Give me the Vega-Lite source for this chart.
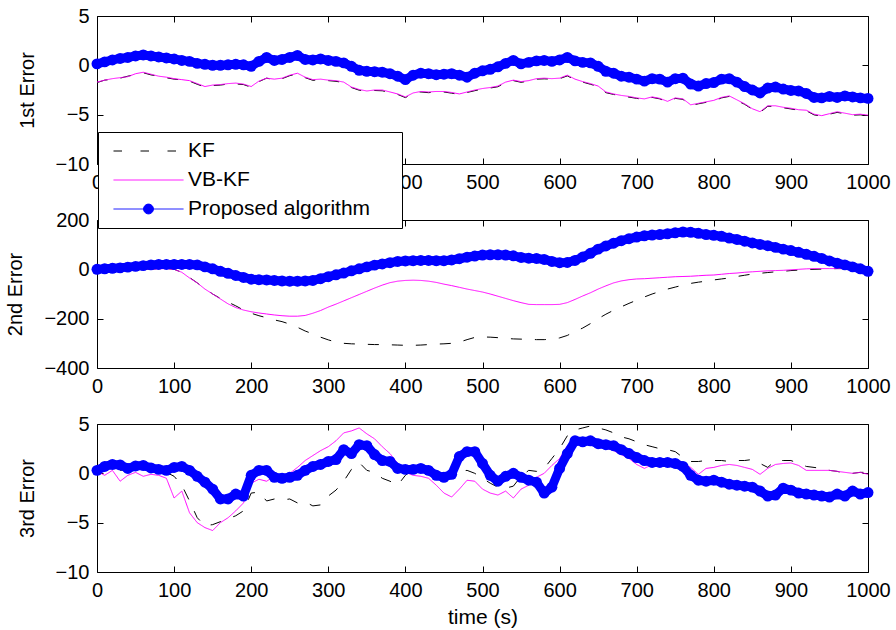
{
  "$schema": "https://vega.github.io/schema/vega-lite/v6.json",
  "background": "white",
  "padding": {"left": 5, "top": 5, "right": 5, "bottom": 5},
  "spacing": 56,
  "bounds": "flush",
  "resolve": {"scale": {"color": "independent", "strokeDash": "independent"}},
  "config": {
    "font": "Liberation Sans",
    "view": {"stroke": "black", "strokeWidth": 1},
    "axis": {"grid": false, "domain": false, "tickColor": "black", "tickSize": -6, "tickWidth": 1, "labelColor": "black", "labelFontSize": 20, "labelFont": "Liberation Sans", "titleFont": "Liberation Sans", "titleFontSize": 20, "titleFontWeight": "normal", "titleColor": "black", "labelFlush": false, "labelOverlap": false, "labelBound": false, "format": "d"},
    "axisX": {"labelPadding": 14, "titlePadding": 6},
    "axisY": {"labelPadding": 14, "titlePadding": 18}
  },
  "datasets": {
    "p1": [
      {"t":0,"KF":-1.75,"VB-KF":-1.7,"Proposed algorithm":0.15},
      {"t":10,"KF":-1.5,"VB-KF":-1.5,"Proposed algorithm":0.35},
      {"t":20,"KF":-1.42,"VB-KF":-1.35,"Proposed algorithm":0.55},
      {"t":30,"KF":-1.3,"VB-KF":-1.25,"Proposed algorithm":0.7},
      {"t":40,"KF":-1.1,"VB-KF":-1.15,"Proposed algorithm":0.8},
      {"t":50,"KF":-0.92,"VB-KF":-0.85,"Proposed algorithm":0.95},
      {"t":60,"KF":-0.75,"VB-KF":-0.7,"Proposed algorithm":1.05},
      {"t":70,"KF":-0.97,"VB-KF":-0.9,"Proposed algorithm":0.95},
      {"t":80,"KF":-1.1,"VB-KF":-1.1,"Proposed algorithm":0.85},
      {"t":90,"KF":-1.26,"VB-KF":-1.2,"Proposed algorithm":0.75},
      {"t":100,"KF":-1.4,"VB-KF":-1.35,"Proposed algorithm":0.65},
      {"t":110,"KF":-1.48,"VB-KF":-1.45,"Proposed algorithm":0.5},
      {"t":120,"KF":-1.6,"VB-KF":-1.55,"Proposed algorithm":0.4},
      {"t":130,"KF":-1.92,"VB-KF":-1.85,"Proposed algorithm":0.2},
      {"t":140,"KF":-2.2,"VB-KF":-2.15,"Proposed algorithm":0.1},
      {"t":150,"KF":-2.05,"VB-KF":-2.0,"Proposed algorithm":0.0},
      {"t":160,"KF":-2.0,"VB-KF":-1.95,"Proposed algorithm":0.0},
      {"t":170,"KF":-1.9,"VB-KF":-1.85,"Proposed algorithm":0.05},
      {"t":180,"KF":-1.88,"VB-KF":-1.8,"Proposed algorithm":0.1},
      {"t":190,"KF":-1.95,"VB-KF":-1.9,"Proposed algorithm":0.05},
      {"t":200,"KF":-2.22,"VB-KF":-2.15,"Proposed algorithm":-0.1},
      {"t":210,"KF":-1.65,"VB-KF":-1.6,"Proposed algorithm":0.4},
      {"t":220,"KF":-1.3,"VB-KF":-1.3,"Proposed algorithm":0.8},
      {"t":230,"KF":-1.47,"VB-KF":-1.4,"Proposed algorithm":0.5},
      {"t":240,"KF":-1.35,"VB-KF":-1.3,"Proposed algorithm":0.6},
      {"t":250,"KF":-1.05,"VB-KF":-1.0,"Proposed algorithm":0.8},
      {"t":260,"KF":-0.86,"VB-KF":-0.8,"Proposed algorithm":1.0},
      {"t":270,"KF":-1.25,"VB-KF":-1.2,"Proposed algorithm":0.6},
      {"t":280,"KF":-1.52,"VB-KF":-1.45,"Proposed algorithm":0.55},
      {"t":290,"KF":-1.45,"VB-KF":-1.4,"Proposed algorithm":0.65},
      {"t":300,"KF":-1.55,"VB-KF":-1.5,"Proposed algorithm":0.5},
      {"t":310,"KF":-1.62,"VB-KF":-1.55,"Proposed algorithm":0.4},
      {"t":320,"KF":-1.75,"VB-KF":-1.7,"Proposed algorithm":0.25},
      {"t":330,"KF":-2.25,"VB-KF":-2.2,"Proposed algorithm":-0.1},
      {"t":340,"KF":-2.52,"VB-KF":-2.45,"Proposed algorithm":-0.5},
      {"t":350,"KF":-2.65,"VB-KF":-2.6,"Proposed algorithm":-0.6},
      {"t":360,"KF":-2.55,"VB-KF":-2.5,"Proposed algorithm":-0.65},
      {"t":370,"KF":-2.58,"VB-KF":-2.5,"Proposed algorithm":-0.7},
      {"t":380,"KF":-2.75,"VB-KF":-2.7,"Proposed algorithm":-0.85},
      {"t":390,"KF":-2.95,"VB-KF":-2.9,"Proposed algorithm":-1.1},
      {"t":400,"KF":-3.27,"VB-KF":-3.2,"Proposed algorithm":-1.45},
      {"t":410,"KF":-2.85,"VB-KF":-2.8,"Proposed algorithm":-1.0},
      {"t":420,"KF":-2.7,"VB-KF":-2.65,"Proposed algorithm":-0.8},
      {"t":430,"KF":-2.77,"VB-KF":-2.7,"Proposed algorithm":-0.85},
      {"t":440,"KF":-2.7,"VB-KF":-2.65,"Proposed algorithm":-0.95},
      {"t":450,"KF":-2.7,"VB-KF":-2.65,"Proposed algorithm":-0.9},
      {"t":460,"KF":-2.82,"VB-KF":-2.75,"Proposed algorithm":-0.85},
      {"t":470,"KF":-2.95,"VB-KF":-2.9,"Proposed algorithm":-1.0},
      {"t":480,"KF":-2.75,"VB-KF":-2.7,"Proposed algorithm":-1.2},
      {"t":490,"KF":-2.57,"VB-KF":-2.5,"Proposed algorithm":-0.8},
      {"t":500,"KF":-2.4,"VB-KF":-2.35,"Proposed algorithm":-0.55},
      {"t":510,"KF":-2.3,"VB-KF":-2.25,"Proposed algorithm":-0.4},
      {"t":520,"KF":-2.17,"VB-KF":-2.1,"Proposed algorithm":-0.15},
      {"t":530,"KF":-1.75,"VB-KF":-1.7,"Proposed algorithm":0.2},
      {"t":540,"KF":-1.55,"VB-KF":-1.5,"Proposed algorithm":0.5},
      {"t":550,"KF":-1.72,"VB-KF":-1.65,"Proposed algorithm":0.15},
      {"t":560,"KF":-1.6,"VB-KF":-1.55,"Proposed algorithm":0.3},
      {"t":570,"KF":-1.4,"VB-KF":-1.35,"Proposed algorithm":0.45},
      {"t":580,"KF":-1.37,"VB-KF":-1.3,"Proposed algorithm":0.5},
      {"t":590,"KF":-1.4,"VB-KF":-1.35,"Proposed algorithm":0.4},
      {"t":600,"KF":-1.35,"VB-KF":-1.3,"Proposed algorithm":0.55},
      {"t":610,"KF":-1.07,"VB-KF":-1.0,"Proposed algorithm":0.8},
      {"t":620,"KF":-1.45,"VB-KF":-1.4,"Proposed algorithm":0.45},
      {"t":630,"KF":-1.7,"VB-KF":-1.65,"Proposed algorithm":0.3},
      {"t":640,"KF":-1.92,"VB-KF":-1.85,"Proposed algorithm":0.25},
      {"t":650,"KF":-2.15,"VB-KF":-2.1,"Proposed algorithm":-0.1},
      {"t":660,"KF":-2.77,"VB-KF":-2.7,"Proposed algorithm":-0.6},
      {"t":670,"KF":-2.95,"VB-KF":-2.9,"Proposed algorithm":-0.8},
      {"t":680,"KF":-3.1,"VB-KF":-3.05,"Proposed algorithm":-1.1},
      {"t":690,"KF":-3.22,"VB-KF":-3.15,"Proposed algorithm":-1.2},
      {"t":700,"KF":-3.35,"VB-KF":-3.3,"Proposed algorithm":-1.4},
      {"t":710,"KF":-3.47,"VB-KF":-3.4,"Proposed algorithm":-1.6},
      {"t":720,"KF":-3.25,"VB-KF":-3.2,"Proposed algorithm":-1.35},
      {"t":730,"KF":-3.4,"VB-KF":-3.35,"Proposed algorithm":-1.4},
      {"t":740,"KF":-3.72,"VB-KF":-3.65,"Proposed algorithm":-1.7},
      {"t":750,"KF":-3.35,"VB-KF":-3.3,"Proposed algorithm":-1.35},
      {"t":760,"KF":-3.45,"VB-KF":-3.4,"Proposed algorithm":-1.3},
      {"t":770,"KF":-4.07,"VB-KF":-4.0,"Proposed algorithm":-1.9},
      {"t":780,"KF":-3.9,"VB-KF":-3.85,"Proposed algorithm":-2.1},
      {"t":790,"KF":-3.75,"VB-KF":-3.7,"Proposed algorithm":-1.85},
      {"t":800,"KF":-3.62,"VB-KF":-3.55,"Proposed algorithm":-1.75},
      {"t":810,"KF":-3.3,"VB-KF":-3.25,"Proposed algorithm":-1.4},
      {"t":820,"KF":-3.15,"VB-KF":-3.1,"Proposed algorithm":-1.35},
      {"t":830,"KF":-3.57,"VB-KF":-3.5,"Proposed algorithm":-1.7},
      {"t":840,"KF":-3.95,"VB-KF":-3.9,"Proposed algorithm":-2.15},
      {"t":850,"KF":-4.45,"VB-KF":-4.4,"Proposed algorithm":-2.5},
      {"t":860,"KF":-4.77,"VB-KF":-4.7,"Proposed algorithm":-2.8},
      {"t":870,"KF":-4.15,"VB-KF":-4.1,"Proposed algorithm":-2.3},
      {"t":880,"KF":-4.17,"VB-KF":-4.1,"Proposed algorithm":-2.2},
      {"t":890,"KF":-4.3,"VB-KF":-4.25,"Proposed algorithm":-2.4},
      {"t":900,"KF":-4.42,"VB-KF":-4.35,"Proposed algorithm":-2.55},
      {"t":910,"KF":-4.55,"VB-KF":-4.5,"Proposed algorithm":-2.6},
      {"t":920,"KF":-4.6,"VB-KF":-4.55,"Proposed algorithm":-2.85},
      {"t":930,"KF":-5.02,"VB-KF":-4.95,"Proposed algorithm":-3.25},
      {"t":940,"KF":-5.15,"VB-KF":-5.1,"Proposed algorithm":-3.3},
      {"t":950,"KF":-4.95,"VB-KF":-4.9,"Proposed algorithm":-3.15},
      {"t":960,"KF":-4.77,"VB-KF":-4.7,"Proposed algorithm":-3.25},
      {"t":970,"KF":-4.9,"VB-KF":-4.85,"Proposed algorithm":-3.1},
      {"t":980,"KF":-5.05,"VB-KF":-5.0,"Proposed algorithm":-3.2},
      {"t":990,"KF":-5.02,"VB-KF":-4.95,"Proposed algorithm":-3.3},
      {"t":1000,"KF":-5.1,"VB-KF":-5.05,"Proposed algorithm":-3.35}
    ],
    "p2": [
      {"t":0,"KF":0,"VB-KF":0,"Proposed algorithm":0},
      {"t":10,"KF":0,"VB-KF":0,"Proposed algorithm":2},
      {"t":20,"KF":0,"VB-KF":0,"Proposed algorithm":4},
      {"t":30,"KF":0,"VB-KF":0,"Proposed algorithm":6},
      {"t":40,"KF":1,"VB-KF":1,"Proposed algorithm":9},
      {"t":50,"KF":1,"VB-KF":1,"Proposed algorithm":12},
      {"t":60,"KF":1,"VB-KF":1,"Proposed algorithm":15},
      {"t":70,"KF":1,"VB-KF":1,"Proposed algorithm":18},
      {"t":80,"KF":2,"VB-KF":2,"Proposed algorithm":20},
      {"t":90,"KF":3,"VB-KF":3,"Proposed algorithm":20},
      {"t":100,"KF":0,"VB-KF":0,"Proposed algorithm":20},
      {"t":110,"KF":-12,"VB-KF":-12,"Proposed algorithm":20},
      {"t":120,"KF":-33,"VB-KF":-35,"Proposed algorithm":20},
      {"t":130,"KF":-55,"VB-KF":-55,"Proposed algorithm":18},
      {"t":140,"KF":-78,"VB-KF":-80,"Proposed algorithm":10},
      {"t":150,"KF":-100,"VB-KF":-100,"Proposed algorithm":2},
      {"t":160,"KF":-118,"VB-KF":-120,"Proposed algorithm":-8},
      {"t":170,"KF":-133,"VB-KF":-140,"Proposed algorithm":-16},
      {"t":180,"KF":-148,"VB-KF":-155,"Proposed algorithm":-25},
      {"t":190,"KF":-165,"VB-KF":-165,"Proposed algorithm":-33},
      {"t":200,"KF":-178,"VB-KF":-172,"Proposed algorithm":-40},
      {"t":210,"KF":-188,"VB-KF":-177,"Proposed algorithm":-42},
      {"t":220,"KF":-196,"VB-KF":-181,"Proposed algorithm":-43},
      {"t":230,"KF":-205,"VB-KF":-185,"Proposed algorithm":-45},
      {"t":240,"KF":-212,"VB-KF":-188,"Proposed algorithm":-47},
      {"t":250,"KF":-222,"VB-KF":-190,"Proposed algorithm":-48},
      {"t":260,"KF":-235,"VB-KF":-190,"Proposed algorithm":-48},
      {"t":270,"KF":-250,"VB-KF":-187,"Proposed algorithm":-47},
      {"t":280,"KF":-262,"VB-KF":-178,"Proposed algorithm":-45},
      {"t":290,"KF":-275,"VB-KF":-167,"Proposed algorithm":-38},
      {"t":300,"KF":-286,"VB-KF":-153,"Proposed algorithm":-30},
      {"t":310,"KF":-295,"VB-KF":-141,"Proposed algorithm":-22},
      {"t":320,"KF":-300,"VB-KF":-128,"Proposed algorithm":-15},
      {"t":330,"KF":-302,"VB-KF":-115,"Proposed algorithm":-6},
      {"t":340,"KF":-303,"VB-KF":-102,"Proposed algorithm":2},
      {"t":350,"KF":-304,"VB-KF":-89,"Proposed algorithm":10},
      {"t":360,"KF":-305,"VB-KF":-76,"Proposed algorithm":17},
      {"t":370,"KF":-305,"VB-KF":-64,"Proposed algorithm":22},
      {"t":380,"KF":-306,"VB-KF":-54,"Proposed algorithm":27},
      {"t":390,"KF":-307,"VB-KF":-48,"Proposed algorithm":32},
      {"t":400,"KF":-308,"VB-KF":-45,"Proposed algorithm":34},
      {"t":410,"KF":-308,"VB-KF":-44,"Proposed algorithm":35},
      {"t":420,"KF":-307,"VB-KF":-45,"Proposed algorithm":36},
      {"t":430,"KF":-305,"VB-KF":-48,"Proposed algorithm":36},
      {"t":440,"KF":-303,"VB-KF":-53,"Proposed algorithm":35},
      {"t":450,"KF":-302,"VB-KF":-60,"Proposed algorithm":35},
      {"t":460,"KF":-300,"VB-KF":-66,"Proposed algorithm":38},
      {"t":470,"KF":-295,"VB-KF":-73,"Proposed algorithm":43},
      {"t":480,"KF":-285,"VB-KF":-80,"Proposed algorithm":49},
      {"t":490,"KF":-276,"VB-KF":-86,"Proposed algorithm":54},
      {"t":500,"KF":-274,"VB-KF":-92,"Proposed algorithm":58},
      {"t":510,"KF":-275,"VB-KF":-100,"Proposed algorithm":59},
      {"t":520,"KF":-277,"VB-KF":-109,"Proposed algorithm":59},
      {"t":530,"KF":-280,"VB-KF":-118,"Proposed algorithm":58},
      {"t":540,"KF":-282,"VB-KF":-127,"Proposed algorithm":55},
      {"t":550,"KF":-283,"VB-KF":-135,"Proposed algorithm":48},
      {"t":560,"KF":-284,"VB-KF":-142,"Proposed algorithm":45},
      {"t":570,"KF":-285,"VB-KF":-143,"Proposed algorithm":44},
      {"t":580,"KF":-285,"VB-KF":-143,"Proposed algorithm":40},
      {"t":590,"KF":-283,"VB-KF":-143,"Proposed algorithm":32},
      {"t":600,"KF":-278,"VB-KF":-142,"Proposed algorithm":27},
      {"t":610,"KF":-268,"VB-KF":-135,"Proposed algorithm":28},
      {"t":620,"KF":-252,"VB-KF":-122,"Proposed algorithm":36},
      {"t":630,"KF":-238,"VB-KF":-108,"Proposed algorithm":50},
      {"t":640,"KF":-220,"VB-KF":-95,"Proposed algorithm":65},
      {"t":650,"KF":-200,"VB-KF":-80,"Proposed algorithm":82},
      {"t":660,"KF":-182,"VB-KF":-67,"Proposed algorithm":95},
      {"t":670,"KF":-166,"VB-KF":-55,"Proposed algorithm":106},
      {"t":680,"KF":-152,"VB-KF":-47,"Proposed algorithm":116},
      {"t":690,"KF":-138,"VB-KF":-42,"Proposed algorithm":124},
      {"t":700,"KF":-125,"VB-KF":-39,"Proposed algorithm":131},
      {"t":710,"KF":-112,"VB-KF":-38,"Proposed algorithm":136},
      {"t":720,"KF":-100,"VB-KF":-36,"Proposed algorithm":139},
      {"t":730,"KF":-90,"VB-KF":-34,"Proposed algorithm":141},
      {"t":740,"KF":-80,"VB-KF":-32,"Proposed algorithm":144},
      {"t":750,"KF":-72,"VB-KF":-30,"Proposed algorithm":148},
      {"t":760,"KF":-64,"VB-KF":-29,"Proposed algorithm":151},
      {"t":770,"KF":-57,"VB-KF":-28,"Proposed algorithm":150},
      {"t":780,"KF":-52,"VB-KF":-26,"Proposed algorithm":146},
      {"t":790,"KF":-48,"VB-KF":-24,"Proposed algorithm":141},
      {"t":800,"KF":-43,"VB-KF":-23,"Proposed algorithm":138},
      {"t":810,"KF":-39,"VB-KF":-20,"Proposed algorithm":134},
      {"t":820,"KF":-35,"VB-KF":-17,"Proposed algorithm":127},
      {"t":830,"KF":-29,"VB-KF":-15,"Proposed algorithm":121},
      {"t":840,"KF":-24,"VB-KF":-12,"Proposed algorithm":114},
      {"t":850,"KF":-19,"VB-KF":-10,"Proposed algorithm":107},
      {"t":860,"KF":-16,"VB-KF":-8,"Proposed algorithm":101},
      {"t":870,"KF":-13,"VB-KF":-6,"Proposed algorithm":96},
      {"t":880,"KF":-10,"VB-KF":-5,"Proposed algorithm":89},
      {"t":890,"KF":-8,"VB-KF":-4,"Proposed algorithm":82},
      {"t":900,"KF":-5,"VB-KF":-2,"Proposed algorithm":76},
      {"t":910,"KF":-3,"VB-KF":0,"Proposed algorithm":69},
      {"t":920,"KF":-1,"VB-KF":2,"Proposed algorithm":61},
      {"t":930,"KF":0,"VB-KF":3,"Proposed algorithm":53},
      {"t":940,"KF":1,"VB-KF":3,"Proposed algorithm":44},
      {"t":950,"KF":2,"VB-KF":3,"Proposed algorithm":34},
      {"t":960,"KF":3,"VB-KF":3,"Proposed algorithm":25},
      {"t":970,"KF":3,"VB-KF":3,"Proposed algorithm":18},
      {"t":980,"KF":2,"VB-KF":3,"Proposed algorithm":10},
      {"t":990,"KF":1,"VB-KF":2,"Proposed algorithm":2},
      {"t":1000,"KF":0,"VB-KF":0,"Proposed algorithm":-8}
    ],
    "p3": [
      {"t":0,"KF":0.3,"VB-KF":0.2,"Proposed algorithm":0.3},
      {"t":10,"KF":0.6,"VB-KF":-0.2,"Proposed algorithm":0.7},
      {"t":20,"KF":0.5,"VB-KF":0.3,"Proposed algorithm":0.9},
      {"t":30,"KF":0.3,"VB-KF":-0.8,"Proposed algorithm":0.85},
      {"t":40,"KF":0.4,"VB-KF":-0.2,"Proposed algorithm":0.5},
      {"t":50,"KF":0.5,"VB-KF":0.1,"Proposed algorithm":0.75},
      {"t":60,"KF":0.4,"VB-KF":-0.3,"Proposed algorithm":0.8},
      {"t":70,"KF":0.2,"VB-KF":-0.1,"Proposed algorithm":0.55},
      {"t":80,"KF":0.2,"VB-KF":-0.2,"Proposed algorithm":0.4},
      {"t":90,"KF":0.1,"VB-KF":-0.5,"Proposed algorithm":0.3},
      {"t":100,"KF":-0.3,"VB-KF":-2.5,"Proposed algorithm":0.6},
      {"t":110,"KF":-1.2,"VB-KF":-1.8,"Proposed algorithm":0.7},
      {"t":120,"KF":-2.8,"VB-KF":-4.0,"Proposed algorithm":0.3},
      {"t":130,"KF":-4.5,"VB-KF":-5.0,"Proposed algorithm":-0.3},
      {"t":140,"KF":-5.3,"VB-KF":-5.5,"Proposed algorithm":-0.9},
      {"t":150,"KF":-5.2,"VB-KF":-5.8,"Proposed algorithm":-1.6},
      {"t":160,"KF":-4.9,"VB-KF":-5.0,"Proposed algorithm":-2.6},
      {"t":170,"KF":-4.6,"VB-KF":-4.5,"Proposed algorithm":-2.6},
      {"t":180,"KF":-4.3,"VB-KF":-3.8,"Proposed algorithm":-2.1},
      {"t":190,"KF":-3.8,"VB-KF":-3.0,"Proposed algorithm":-2.3},
      {"t":200,"KF":-2.0,"VB-KF":-1.0,"Proposed algorithm":-0.2},
      {"t":210,"KF":-1.9,"VB-KF":-0.6,"Proposed algorithm":0.3},
      {"t":220,"KF":-2.8,"VB-KF":-0.8,"Proposed algorithm":0.3},
      {"t":230,"KF":-2.6,"VB-KF":-0.3,"Proposed algorithm":-0.4},
      {"t":240,"KF":-2.7,"VB-KF":-0.2,"Proposed algorithm":-0.5},
      {"t":250,"KF":-2.6,"VB-KF":0.0,"Proposed algorithm":-0.4},
      {"t":260,"KF":-3.0,"VB-KF":0.6,"Proposed algorithm":-0.2},
      {"t":270,"KF":-2.9,"VB-KF":1.3,"Proposed algorithm":0.3},
      {"t":280,"KF":-3.3,"VB-KF":1.8,"Proposed algorithm":0.7},
      {"t":290,"KF":-3.2,"VB-KF":2.3,"Proposed algorithm":0.9},
      {"t":300,"KF":-2.3,"VB-KF":2.7,"Proposed algorithm":1.2},
      {"t":310,"KF":-1.7,"VB-KF":3.3,"Proposed algorithm":1.4},
      {"t":320,"KF":-0.8,"VB-KF":4.1,"Proposed algorithm":2.4},
      {"t":330,"KF":0.4,"VB-KF":4.3,"Proposed algorithm":2.0},
      {"t":340,"KF":1.1,"VB-KF":4.6,"Proposed algorithm":2.9},
      {"t":350,"KF":0.3,"VB-KF":4.0,"Proposed algorithm":2.8},
      {"t":360,"KF":0.1,"VB-KF":3.5,"Proposed algorithm":1.9},
      {"t":370,"KF":-0.5,"VB-KF":2.7,"Proposed algorithm":1.3},
      {"t":380,"KF":-0.8,"VB-KF":2.0,"Proposed algorithm":1.2},
      {"t":390,"KF":-1.2,"VB-KF":1.0,"Proposed algorithm":0.5},
      {"t":400,"KF":-0.2,"VB-KF":0.1,"Proposed algorithm":0.4},
      {"t":410,"KF":0.4,"VB-KF":-0.2,"Proposed algorithm":0.4},
      {"t":420,"KF":0.8,"VB-KF":-0.3,"Proposed algorithm":0.5},
      {"t":430,"KF":0.6,"VB-KF":-0.5,"Proposed algorithm":0.3},
      {"t":440,"KF":0.3,"VB-KF":-1.2,"Proposed algorithm":-0.2},
      {"t":450,"KF":0.0,"VB-KF":-2.0,"Proposed algorithm":-0.4},
      {"t":460,"KF":0.0,"VB-KF":-2.4,"Proposed algorithm":-0.1},
      {"t":470,"KF":0.2,"VB-KF":-1.6,"Proposed algorithm":1.7},
      {"t":480,"KF":0.3,"VB-KF":-0.7,"Proposed algorithm":2.2},
      {"t":490,"KF":0.0,"VB-KF":-0.8,"Proposed algorithm":2.2},
      {"t":500,"KF":-0.5,"VB-KF":-1.6,"Proposed algorithm":1.0},
      {"t":510,"KF":-1.0,"VB-KF":-2.0,"Proposed algorithm":-0.2},
      {"t":520,"KF":-1.4,"VB-KF":-2.2,"Proposed algorithm":-0.8},
      {"t":530,"KF":-1.5,"VB-KF":-1.8,"Proposed algorithm":-0.3},
      {"t":540,"KF":-1.3,"VB-KF":-2.5,"Proposed algorithm":0.0},
      {"t":550,"KF":-0.3,"VB-KF":-1.6,"Proposed algorithm":-0.4},
      {"t":560,"KF":0.3,"VB-KF":-1.2,"Proposed algorithm":-0.7},
      {"t":570,"KF":0.2,"VB-KF":-0.4,"Proposed algorithm":-0.9},
      {"t":580,"KF":0.5,"VB-KF":0.0,"Proposed algorithm":-2.0},
      {"t":590,"KF":1.5,"VB-KF":0.8,"Proposed algorithm":-1.4},
      {"t":600,"KF":2.5,"VB-KF":1.5,"Proposed algorithm":0.5},
      {"t":610,"KF":3.8,"VB-KF":2.8,"Proposed algorithm":2.0},
      {"t":620,"KF":4.4,"VB-KF":3.3,"Proposed algorithm":3.3},
      {"t":630,"KF":4.6,"VB-KF":3.5,"Proposed algorithm":3.2},
      {"t":640,"KF":4.8,"VB-KF":3.2,"Proposed algorithm":3.3},
      {"t":650,"KF":4.6,"VB-KF":2.9,"Proposed algorithm":3.0},
      {"t":660,"KF":4.4,"VB-KF":2.6,"Proposed algorithm":2.9},
      {"t":670,"KF":4.1,"VB-KF":2.3,"Proposed algorithm":2.8},
      {"t":680,"KF":3.7,"VB-KF":1.9,"Proposed algorithm":2.4},
      {"t":690,"KF":3.5,"VB-KF":1.5,"Proposed algorithm":2.0},
      {"t":700,"KF":3.2,"VB-KF":0.9,"Proposed algorithm":1.6},
      {"t":710,"KF":2.9,"VB-KF":0.5,"Proposed algorithm":1.3},
      {"t":720,"KF":2.7,"VB-KF":0.9,"Proposed algorithm":1.1},
      {"t":730,"KF":2.5,"VB-KF":0.8,"Proposed algorithm":1.1},
      {"t":740,"KF":2.4,"VB-KF":0.9,"Proposed algorithm":1.1},
      {"t":750,"KF":2.2,"VB-KF":1.0,"Proposed algorithm":1.0},
      {"t":760,"KF":1.6,"VB-KF":1.0,"Proposed algorithm":0.7},
      {"t":770,"KF":1.2,"VB-KF":0.6,"Proposed algorithm":-0.2},
      {"t":780,"KF":1.2,"VB-KF":-0.1,"Proposed algorithm":-0.7},
      {"t":790,"KF":1.3,"VB-KF":0.5,"Proposed algorithm":-0.8},
      {"t":800,"KF":1.3,"VB-KF":0.6,"Proposed algorithm":-0.7},
      {"t":810,"KF":1.3,"VB-KF":0.8,"Proposed algorithm":-0.9},
      {"t":820,"KF":1.2,"VB-KF":0.9,"Proposed algorithm":-1.1},
      {"t":830,"KF":1.3,"VB-KF":0.8,"Proposed algorithm":-1.2},
      {"t":840,"KF":1.3,"VB-KF":0.6,"Proposed algorithm":-1.3},
      {"t":850,"KF":1.4,"VB-KF":0.4,"Proposed algorithm":-1.4},
      {"t":860,"KF":1.0,"VB-KF":-0.1,"Proposed algorithm":-1.8},
      {"t":870,"KF":0.6,"VB-KF":0.5,"Proposed algorithm":-2.3},
      {"t":880,"KF":1.3,"VB-KF":0.9,"Proposed algorithm":-2.2},
      {"t":890,"KF":1.3,"VB-KF":1.0,"Proposed algorithm":-1.5},
      {"t":900,"KF":1.3,"VB-KF":1.05,"Proposed algorithm":-1.7},
      {"t":910,"KF":1.0,"VB-KF":0.8,"Proposed algorithm":-2.0},
      {"t":920,"KF":0.7,"VB-KF":0.3,"Proposed algorithm":-2.1},
      {"t":930,"KF":0.6,"VB-KF":0.3,"Proposed algorithm":-2.2},
      {"t":940,"KF":0.5,"VB-KF":0.3,"Proposed algorithm":-2.3},
      {"t":950,"KF":0.3,"VB-KF":0.3,"Proposed algorithm":-2.4},
      {"t":960,"KF":0.2,"VB-KF":0.2,"Proposed algorithm":-2.1},
      {"t":970,"KF":0.0,"VB-KF":0.1,"Proposed algorithm":-2.3},
      {"t":980,"KF":0.0,"VB-KF":0.0,"Proposed algorithm":-1.8},
      {"t":990,"KF":0.1,"VB-KF":0.1,"Proposed algorithm":-2.1},
      {"t":1000,"KF":0.1,"VB-KF":-0.1,"Proposed algorithm":-1.95}
    ]
  },
  "vconcat": [
    {
      "width": 771, "height": 148,
      "data": {"name": "p1"},
      "transform": [{"fold": ["KF", "VB-KF", "Proposed algorithm"], "as": ["series", "v"]}],
      "layer": [
        {
          "encoding": {
            "x": {"field": "t", "type": "quantitative", "scale": {"domain": [0, 1000], "nice": false}, "axis": {"values": [0,100,200,300,400,500,600,700,800,900,1000], "title": null}},
            "y": {"field": "v", "type": "quantitative", "scale": {"domain": [-10, 5], "nice": false}, "axis": {"values": [-10,-5,0,5], "title": "1st Error"}},
            "color": {"field": "series", "type": "nominal", "scale": {"domain": ["KF", "VB-KF", "Proposed algorithm"], "range": ["#000000", "#ff00ff", "#0000ff"]}, "legend": null}
          },
          "layer": [
            {"transform": [{"filter": "datum.series !== 'Proposed algorithm'"}], "mark": {"type": "line", "strokeWidth": 1}, "encoding": {"strokeDash": {"field": "series", "type": "nominal", "scale": {"domain": ["KF", "VB-KF"], "range": [[11, 13], [1, 0]]}, "legend": null}}},
            {"transform": [{"filter": "datum.series === 'Proposed algorithm'"}], "mark": {"type": "line", "strokeWidth": 9, "strokeCap": "round", "strokeJoin": "round"}},
            {"transform": [{"filter": "datum.series === 'Proposed algorithm'"}], "mark": {"type": "point", "shape": "circle", "filled": true, "size": 120, "opacity": 1}}
          ]
        },
        {"mark": {"type": "line", "opacity": 0}, "encoding": {
          "x": {"field": "t", "type": "quantitative", "axis": {"orient": "top", "labels": false, "values": [0,100,200,300,400,500,600,700,800,900,1000], "title": null}},
          "y": {"field": "v", "type": "quantitative", "axis": {"orient": "right", "labels": false, "values": [-10,-5,0,5], "title": null}}}}
      ],
      "resolve": {"axis": {"x": "independent", "y": "independent"}}
    },
    {
      "width": 771, "height": 148,
      "data": {"name": "p2"},
      "transform": [{"fold": ["KF", "VB-KF", "Proposed algorithm"], "as": ["series", "v"]}],
      "layer": [
        {
          "encoding": {
            "x": {"field": "t", "type": "quantitative", "scale": {"domain": [0, 1000], "nice": false}, "axis": {"values": [0,100,200,300,400,500,600,700,800,900,1000], "title": null}},
            "y": {"field": "v", "type": "quantitative", "scale": {"domain": [-400, 200], "nice": false}, "axis": {"values": [-400,-200,0,200], "title": "2nd Error"}},
            "color": {"field": "series", "type": "nominal", "scale": {"domain": ["KF", "VB-KF", "Proposed algorithm"], "range": ["#000000", "#ff00ff", "#0000ff"]},
              "legend": {
                "orient": "none", "legendX": 1, "legendY": -88, "title": "\u00a0", "titleOrient": "right", "titlePadding": 25, "titleFontSize": 20,
                "direction": "vertical",
                "fillColor": "white", "strokeColor": "black", "padding": 6.5,
                "symbolSize": 4900, "symbolStrokeWidth": 1, "symbolOffset": 8.5, "symbolType": "stroke",
                "labelOffset": 4, "labelFontSize": 21, "labelColor": "black", "labelFont": "Liberation Sans", "labelLimit": 0,
                "clipHeight": 25, "rowPadding": 4,
                "encode": {"symbols": {"update": {
                  "shape": {"signal": "datum.value === 'Proposed algorithm' ? 'M-1,0L1,0M0.14,0A0.14,0.14,0,1,1,-0.14,0A0.14,0.14,0,1,1,0.14,0Z' : 'M-1,0L1,0'"},
                  "strokeDash": {"signal": "datum.value === 'KF' ? [8.5, 18.5] : [1, 0]"},
                  "fill": {"signal": "datum.value === 'Proposed algorithm' ? '#0000ff' : 'transparent'"},
                  "fillOpacity": {"value": 1},
                  "opacity": {"value": 1}
                }}}
              }}
          },
          "layer": [
            {"transform": [{"filter": "datum.series !== 'Proposed algorithm'"}], "mark": {"type": "line", "strokeWidth": 1}, "encoding": {"strokeDash": {"field": "series", "type": "nominal", "scale": {"domain": ["KF", "VB-KF"], "range": [[11, 13], [1, 0]]}, "legend": null}}},
            {"transform": [{"filter": "datum.series === 'Proposed algorithm'"}], "mark": {"type": "line", "strokeWidth": 9, "strokeCap": "round", "strokeJoin": "round"}},
            {"transform": [{"filter": "datum.series === 'Proposed algorithm'"}], "mark": {"type": "point", "shape": "circle", "filled": true, "size": 120, "opacity": 1}}
          ]
        },
        {"mark": {"type": "line", "opacity": 0}, "encoding": {
          "x": {"field": "t", "type": "quantitative", "axis": {"orient": "top", "labels": false, "values": [0,100,200,300,400,500,600,700,800,900,1000], "title": null}},
          "y": {"field": "v", "type": "quantitative", "axis": {"orient": "right", "labels": false, "values": [-400,-200,0,200], "title": null}}}}
      ],
      "resolve": {"axis": {"x": "independent", "y": "independent"}}
    },
    {
      "width": 771, "height": 148,
      "data": {"name": "p3"},
      "transform": [{"fold": ["KF", "VB-KF", "Proposed algorithm"], "as": ["series", "v"]}],
      "layer": [
        {
          "encoding": {
            "x": {"field": "t", "type": "quantitative", "scale": {"domain": [0, 1000], "nice": false}, "axis": {"values": [0,100,200,300,400,500,600,700,800,900,1000], "title": "time (s)", "titleFontSize": 21}},
            "y": {"field": "v", "type": "quantitative", "scale": {"domain": [-10, 5], "nice": false}, "axis": {"values": [-10,-5,0,5], "title": "3rd Error"}},
            "color": {"field": "series", "type": "nominal", "scale": {"domain": ["KF", "VB-KF", "Proposed algorithm"], "range": ["#000000", "#ff00ff", "#0000ff"]}, "legend": null}
          },
          "layer": [
            {"transform": [{"filter": "datum.series !== 'Proposed algorithm'"}], "mark": {"type": "line", "strokeWidth": 1}, "encoding": {"strokeDash": {"field": "series", "type": "nominal", "scale": {"domain": ["KF", "VB-KF"], "range": [[11, 13], [1, 0]]}, "legend": null}}},
            {"transform": [{"filter": "datum.series === 'Proposed algorithm'"}], "mark": {"type": "line", "strokeWidth": 9, "strokeCap": "round", "strokeJoin": "round"}},
            {"transform": [{"filter": "datum.series === 'Proposed algorithm'"}], "mark": {"type": "point", "shape": "circle", "filled": true, "size": 120, "opacity": 1}}
          ]
        },
        {"mark": {"type": "line", "opacity": 0}, "encoding": {
          "x": {"field": "t", "type": "quantitative", "axis": {"orient": "top", "labels": false, "values": [0,100,200,300,400,500,600,700,800,900,1000], "title": null}},
          "y": {"field": "v", "type": "quantitative", "axis": {"orient": "right", "labels": false, "values": [-10,-5,0,5], "title": null}}}}
      ],
      "resolve": {"axis": {"x": "independent", "y": "independent"}}
    }
  ]
}
